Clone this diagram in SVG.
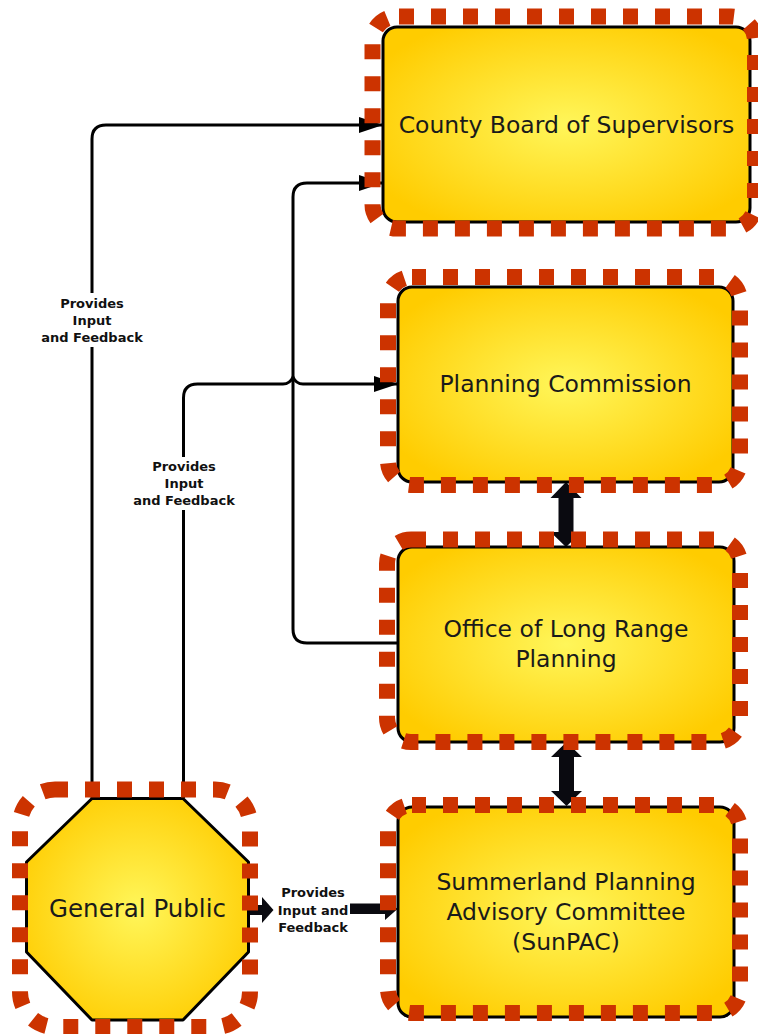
<svg xmlns="http://www.w3.org/2000/svg" width="758" height="1034" viewBox="0 0 758 1034">
<style>
.fill{fill:url(#gold);stroke:#000;stroke-width:3;stroke-linejoin:round}
.dash{fill:none;stroke:#CC3300;stroke-width:16;stroke-dasharray:15 17}
.t{font-family:"DejaVu Sans","Liberation Sans",sans-serif;font-size:23.5px;fill:#1a1a1a;text-anchor:middle}
.lbl{font-family:"DejaVu Sans","Liberation Sans",sans-serif;font-weight:bold;font-size:13px;fill:#111;text-anchor:middle}
.ln{fill:none;stroke:#000;stroke-width:3}
.blk{fill:#0a0a10}
</style>
<defs>
<radialGradient id="gold" cx="0.5" cy="0.5" r="0.6">
<stop offset="0" stop-color="#FFF65A"/>
<stop offset="1" stop-color="#FFCC00"/>
</radialGradient>
<marker id="arr" markerUnits="userSpaceOnUse" markerWidth="24" markerHeight="16" refX="24" refY="8" orient="auto">
<path d="M0,0 L24,8 L0,16 z" fill="#000"/>
</marker>
</defs>
<rect width="758" height="1034" fill="#fff"/>
<g id="connectors">
<path class="ln" d="M92,798 V139 Q92,125 106,125 H383" marker-end="url(#arr)"/>
<path class="ln" d="M398,643 H307 Q293,643 293,629 V197 Q293,183 307,183 H383" marker-end="url(#arr)"/>
<path class="ln" d="M183.5,798 V398 Q183.5,384 197.5,384 H283 Q290,384 293,377 Q296,384 303,384 H398" marker-end="url(#arr)"/>
<polygon class="blk" points="566,482 581.5,498 573.5,498 573.5,532 581.5,532 566,547 550.5,532 558.5,532 558.5,498 550.5,498"/>
<polygon class="blk" points="566.5,742 582,757 574,757 574,791 582,791 566.5,806 551,791 559,791 559,757 551,757"/>
<polygon class="blk" points="248,905 262,905 262,897 273.5,910 262,923 262,915 248,915"/>
<polygon class="blk" points="350,903.5 385,903.5 385,898 397.5,909 385,920 385,914 350,914"/>
<g id="label1">
<rect x="36" y="293" width="112" height="54" fill="#fff"/>
<text class="lbl" x="92" y="308">Provides</text>
<text class="lbl" x="92" y="325">Input</text>
<text class="lbl" x="92" y="342">and Feedback</text>
</g>
<g id="label2">
<rect x="128" y="457" width="112" height="53" fill="#fff"/>
<text class="lbl" x="184" y="471">Provides</text>
<text class="lbl" x="184" y="488">Input</text>
<text class="lbl" x="184" y="505">and Feedback</text>
</g>
<g id="label3">
<text class="lbl" x="313" y="897">Provides</text>
<text class="lbl" x="313" y="915">Input and</text>
<text class="lbl" x="313" y="932">Feedback</text>
</g>
</g>
<g id="county-board">
<rect class="fill" x="383" y="27" width="367" height="195" rx="14"/>
<rect class="dash" x="372.5" y="16.5" width="382.5" height="212" rx="24" stroke-dashoffset="-2.5"/>
<text class="t" x="566.5" y="133">County Board of Supervisors</text>
</g>
<g id="planning-commission">
<rect class="fill" x="398" y="287" width="335" height="195" rx="14"/>
<rect class="dash" x="388" y="277" width="352" height="208" rx="24" stroke-dashoffset="1"/>
<text class="t" x="565.5" y="392">Planning Commission</text>
</g>
<g id="office-long-range">
<rect class="fill" x="398" y="547" width="336" height="195" rx="14"/>
<rect class="dash" x="387" y="539.5" width="353" height="202.5" rx="24" stroke-dashoffset="0"/>
<text class="t" x="566" y="637">Office of Long Range</text>
<text class="t" x="566" y="667">Planning</text>
</g>
<g id="sunpac">
<rect class="fill" x="398" y="807" width="336" height="210" rx="14"/>
<rect class="dash" x="388" y="805" width="352" height="208" rx="24" stroke-dashoffset="1"/>
<text class="t" x="566" y="890">Summerland Planning</text>
<text class="t" x="566" y="920">Advisory Committee</text>
<text class="t" x="566" y="950">(SunPAC)</text>
</g>
<g id="general-public">
<polygon class="fill" points="92,798.5 183,798.5 248.5,862 248.5,952 183,1020 92,1020 26.5,952 26.5,862"/>
<rect class="dash" x="20" y="789.5" width="230" height="237.5" rx="35" stroke-dashoffset="2"/>
<text class="t" x="137.5" y="917" style="font-size:24.5px">General Public</text>
</g>
</svg>
